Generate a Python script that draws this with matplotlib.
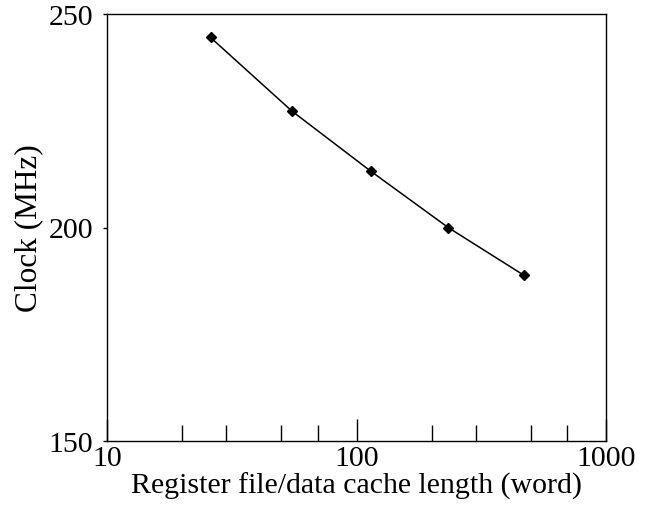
import matplotlib
matplotlib.use("Agg")
import matplotlib.pyplot as plt
from matplotlib.ticker import FixedLocator, NullFormatter

# datos
longitud = [26, 55, 114, 233, 469]
reloj = [244.5, 227.3, 213.2, 200.0, 188.8]

ticks_mayores = [10, 100, 1000]
ticks_menores = [20, 30, 50, 70, 200, 300, 500, 700]
ticks_y = [150, 200, 250]

plt.rcParams['font.family'] = ['Liberation Serif', 'DejaVu Serif']

fig = plt.figure(figsize=(6.53, 5.10), dpi=100)
ax = fig.add_axes([107 / 653, 68 / 510, 499 / 653, 427 / 510])

ax.plot(longitud, reloj, color="black", linewidth=1.1, marker="D", markersize=5)

ax.set_xscale("log")
ax.set_xlim(10, 1000)
ax.set_ylim(150, 250)

ax.xaxis.set_major_locator(FixedLocator(ticks_mayores))
ax.xaxis.set_minor_locator(FixedLocator(ticks_menores))
ax.xaxis.set_minor_formatter(NullFormatter())
ax.set_xticklabels(["10", "100", "1000"])
ax.set_yticks(ticks_y)

ax.tick_params(axis="x", which="major", direction="in", length=16, width=1, labelsize=21.5, pad=3)
ax.tick_params(axis="x", which="minor", direction="in", length=11.5, width=1)
ax.tick_params(axis="y", which="major", direction="out", length=3, width=1, labelsize=21.5, pad=7)
ax.tick_params(top=False, right=False)

for s in ax.spines.values():
    s.set_linewidth(1)

ax.set_xlabel("Register file/data cache length (word)", fontsize=21.5, labelpad=0.5)
ax.set_ylabel("Clock (MHz)", fontsize=22.5, labelpad=4)

fig.savefig("out.png", dpi=100)
